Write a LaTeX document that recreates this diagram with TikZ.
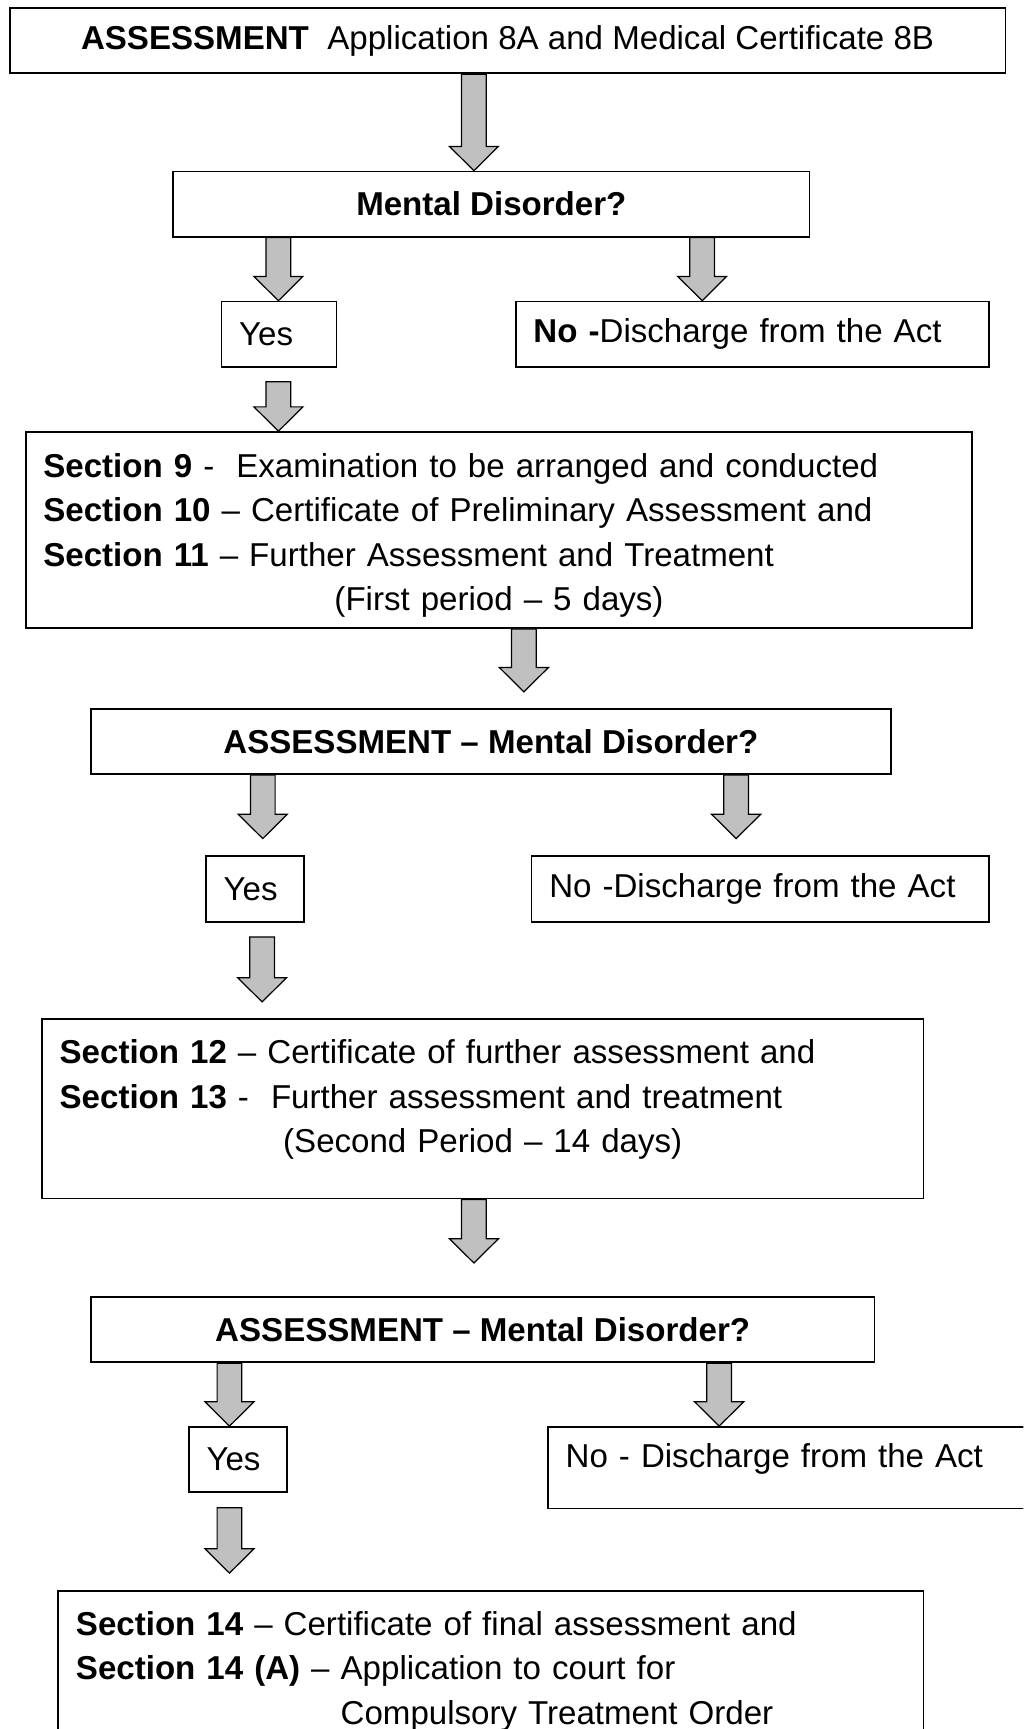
\documentclass[tikz,border=0pt]{standalone}
\usepackage{fontspec}
\setmainfont{Liberation Sans}
\usetikzlibrary{calc}
\definecolor{arrowgray}{RGB}{192,192,192}

\begin{document}
\begin{tikzpicture}[x=1pt,y=-1pt,
    box/.style={draw, line width=1.6pt, anchor=north west, inner xsep=16pt, inner ysep=0pt,
      font=\fontsize{30}{40.3}\selectfont},
    flow/.style={fill=arrowgray, draw=black, line width=1.1pt, line join=miter,
      to path={($(\tikztostart)+(-11.2,0)$) -- ($(\tikztotarget)+(-11.2,-22)$)
        -- ($(\tikztotarget)+(-22.2,-22)$) -- (\tikztotarget)
        -- ($(\tikztotarget)+(22.2,-22)$) -- ($(\tikztotarget)+(11.2,-22)$)
        -- ($(\tikztostart)+(11.2,0)$) -- cycle}}]
      \useasboundingbox (0,0) rectangle (928,1568);
      \clip (0,0) rectangle (928,1568);
      %%%%%%%%%%%%%%%%%%%%%%%%%%%%%%%%%%%%%%%%%%%%%%%
      \node[box, minimum width=903pt, minimum height=59pt] (assess) at (8,6.7)
            {\textbf{ASSESSMENT}~~Application 8A and Medical Certificate 8B};
      \node[box, minimum width=577pt, minimum height=59pt] (disorder1) at (156.3,154.8)
            {\textbf{Mental Disorder?}};
      \node[box, text width=72.3pt, minimum height=59.3pt] (yes1) at (200,272.7) {Yes};
      \node[box, text width=396.8pt, minimum height=59.3pt] (no1) at (467,272.7)
            {\textbf{No -}Discharge from the Act};
      \coordinate (a1s) at (429.8,0 |- assess.south);
      \coordinate (a1e) at (a1s |- disorder1.north);
      \coordinate (a2s) at (252.5,0 |- disorder1.south);
      \coordinate (a2e) at (a2s |- yes1.north);
      \coordinate (a3s) at (636.8,0 |- disorder1.south);
      \coordinate (a3e) at (a3s |- no1.north);
      \path[flow] (a1s) to (a1e)
                  (a2s) to (a2e)
                  (a3s) to (a3e);
      %%%%%%%%%%%%%%%%%%%%%%%%%%%%%%%%%%%%%%%%%%%%%%%
      \node[box, text width=826.5pt, minimum height=177.8pt, text depth=117pt] (sec9) at (22.5,391)
            {\textbf{Section 9} -~ Examination to be arranged and conducted\\
             \textbf{Section 10} – Certificate of Preliminary Assessment and\\
             \textbf{Section 11} – Further Assessment and Treatment\\
             \makebox[\hsize]{(First period – 5 days)}};
      \coordinate (a4s) at (252.5,346.2);
      \coordinate (a4e) at (a4s |- sec9.north);
      \path[flow] (a4s) to (a4e);
      %%%%%%%%%%%%%%%%%%%%%%%%%%%%%%%%%%%%%%%%%%%%%%%
      \node[box, minimum width=725.3pt, minimum height=58.8pt] (disorder2) at (81.7,642.5)
            {\textbf{ASSESSMENT – Mental Disorder?}};
      \node[box, text width=56.7pt, minimum height=59.4pt] (yes2) at (186,775.6) {Yes};
      \node[box, text width=382.5pt, minimum height=59.4pt] (no2) at (481.3,775.6)
            {No -Discharge from the Act};
      \coordinate (a5s) at (475.1,0 |- sec9.south);
      \coordinate (a5e) at (475.1,627.4);
      \coordinate (a6s) at (238.3,0 |- disorder2.south);
      \coordinate (a6e) at (238.3,760.5);
      \coordinate (a7s) at (667.6,0 |- disorder2.south);
      \coordinate (a7e) at (667.6,760.5);
      \path[flow] (a5s) to (a5e)
                  (a6s) to (a6e)
                  (a7s) to (a7e);
      %%%%%%%%%%%%%%%%%%%%%%%%%%%%%%%%%%%%%%%%%%%%%%%
      \node[box, text width=767.3pt, minimum height=163pt, text depth=103pt] (sec12) at (37.3,923.1)
            {\textbf{Section 12} – Certificate of further assessment and\\
             \textbf{Section 13} -~ Further assessment and treatment\\
             \makebox[\hsize]{(Second Period – 14 days)}};
      \coordinate (a8s) at (237.7,849.7);
      \coordinate (a8e) at (237.7,908.6);
      \path[flow] (a8s) to (a8e);
      %%%%%%%%%%%%%%%%%%%%%%%%%%%%%%%%%%%%%%%%%%%%%%%
      \node[box, minimum width=710.5pt, minimum height=59pt] (disorder3) at (81.7,1175.6)
            {\textbf{ASSESSMENT – Mental Disorder?}};
      \node[box, text width=56.8pt, minimum height=59.2pt] (yes3) at (170.5,1293.3) {Yes};
      \node[box, text width=408pt, minimum height=74pt, text depth=22pt] (no3) at (496.2,1293.3)
            {No - Discharge from the Act};
      \coordinate (a9s) at (429.8,0 |- sec12.south);
      \coordinate (a9e) at (429.8,1145.4);
      \coordinate (a10s) at (208.1,0 |- disorder3.south);
      \coordinate (a10e) at (a10s |- yes3.north);
      \coordinate (a11s) at (652.2,0 |- disorder3.south);
      \coordinate (a11e) at (a11s |- no3.north);
      \path[flow] (a9s) to (a9e)
                  (a10s) to (a10e)
                  (a11s) to (a11e);
      %%%%%%%%%%%%%%%%%%%%%%%%%%%%%%%%%%%%%%%%%%%%%%%
      \node[box, text width=752.5pt, minimum height=140pt, text depth=81pt] (sec14) at (52.1,1441.7)
            {\textbf{Section 14} – Certificate of final assessment and\\
             \textbf{Section 14 (A)} – Application to court for\\
             \phantom{\textbf{Section 14 (A)} – }Compulsory Treatment Order};
      \coordinate (a12s) at (208.1,1367.3);
      \coordinate (a12e) at (208.1,1426.6);
      \path[flow] (a12s) to (a12e);
      %%%%%%%%%%%%%%%%%%%%%%%%%%%%%%%%%%%%%%%%%%%%%%%
\end{tikzpicture}
\end{document}
